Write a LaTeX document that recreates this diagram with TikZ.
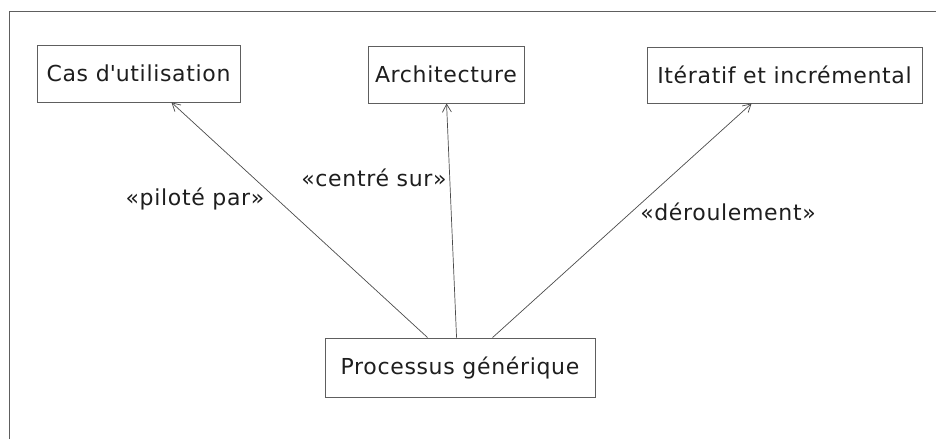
\documentclass[tikz,border=0pt]{standalone}
\usepackage{fontspec}
\setmainfont{DejaVu Sans}[LetterSpace=3]
\usetikzlibrary{arrows.meta}
\definecolor{ink}{HTML}{1E1E1E}
\definecolor{rule}{HTML}{5E5E5E}
\tikzset{
  classbox/.style={draw=rule, line width=0.9pt, inner sep=0pt, text=ink,
    font=\fontsize{22}{26}\selectfont},
  deplabel/.style={text=ink, inner sep=0pt, font=\fontsize{22}{26}\selectfont},
  dependency/.style={draw=ink!80, line width=0.7pt,
    -{Straight Barb[length=8pt, width=9pt, line width=0.7pt]}},
  frameline/.style={draw=rule, line width=1pt}
}
\begin{document}
\begin{tikzpicture}[x=1pt, y=-1pt]
  \useasboundingbox (0,0) rectangle (936,439);

  % diagram frame (left and top edges)
  \coordinate (fbl) at (9,439);
  \coordinate (ftl) at (9,11);
  \coordinate (ftr) at (936,11);
  \draw[frameline] (fbl) -- (ftl) -- (ftr);

  % classes
  \node[classbox, minimum width=203pt, minimum height=57pt] (cas)  at (138.5,73.5) {Cas d\textquotesingle utilisation};
  \node[classbox, minimum width=156pt, minimum height=57pt] (arch) at (446,74.5) {Architecture};
  \node[classbox, minimum width=275pt, minimum height=56pt] (iter) at (784.5,75) {Itératif et incrémental};
  \node[classbox, minimum width=270pt, minimum height=59pt] (proc) at (460,367.5) {Processus générique};

  % dependencies
  \draw[dependency] ([xshift=103pt]proc.north west) -- ([xshift=135pt]cas.south west);
  \draw[dependency] ([xshift=132pt]proc.north west) -- ([xshift=79pt]arch.south west);
  \draw[dependency] ([xshift=168pt]proc.north west) -- ([xshift=105pt]iter.south west);

  % stereotypes
  \node[deplabel] (lpil) at (195,199) {«piloté par»};
  \node[deplabel] (lcen) at (374,178) {«centré sur»};
  \node[deplabel] (lder) at (728,212) {«déroulement»};
\end{tikzpicture}
\end{document}
